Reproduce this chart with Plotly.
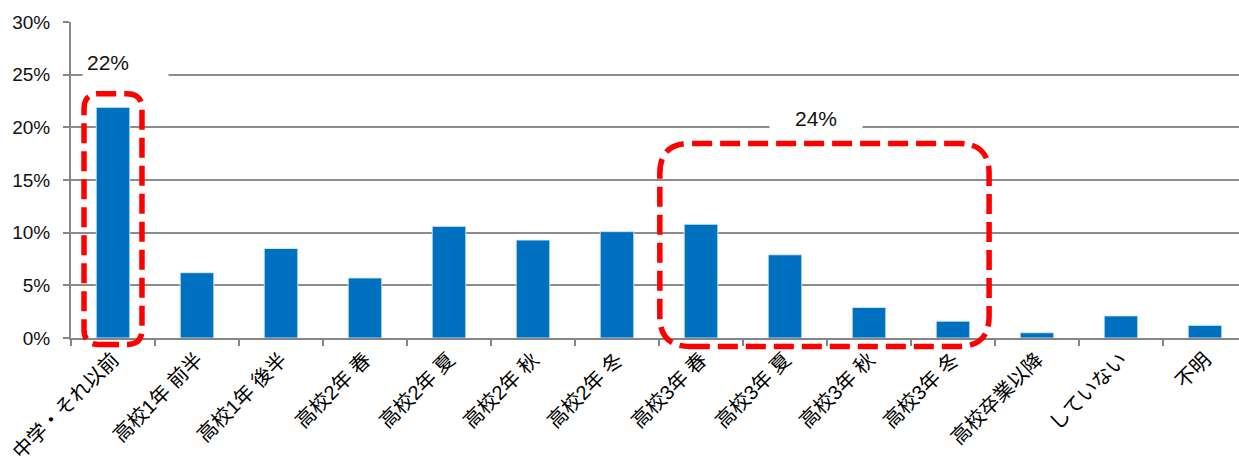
import plotly.graph_objects as go

categories = ["中学・それ以前", "高校1年 前半", "高校1年 後半", "高校2年 春", "高校2年 夏",
              "高校2年 秋", "高校2年 冬", "高校3年 春", "高校3年 夏", "高校3年 秋",
              "高校3年 冬", "高校卒業以降", "していない", "不明"]
values = [21.9, 6.2, 8.5, 5.7, 10.6, 9.3, 10.1, 10.8, 7.9, 2.9, 1.6, 0.5, 2.1, 1.2]
y_ticks = [0, 5, 10, 15, 20, 25, 30]
y_tick_labels = ["0%", "5%", "10%", "15%", "20%", "25%", "30%"]
callout_texts = ["22%", "24%"]

W, H = 1239, 457
ML, MR, MT, MB = 71, 0, 22, 119
XR = [-0.5, 13.405]
YR = [0, 30]
PW, PH = W - ML - MR, H - MT - MB


def to_paper(x, y):
    return (x - XR[0]) / (XR[1] - XR[0]), (y - YR[0]) / (YR[1] - YR[0])


def rounded_path(x0, y0, x1, y1, r):
    (px0, py0), (px1, py1) = to_paper(x0, y0), to_paper(x1, y1)
    rx, ry = r / PW, r / PH
    return (f"M {px0+rx},{py0} L {px1-rx},{py0} Q {px1},{py0} {px1},{py0+ry} "
            f"L {px1},{py1-ry} Q {px1},{py1} {px1-rx},{py1} "
            f"L {px0+rx},{py1} Q {px0},{py1} {px0},{py1-ry} "
            f"L {px0},{py0+ry} Q {px0},{py0} {px0+rx},{py0} Z")


fig = go.Figure()
fig.add_trace(go.Bar(
    x=categories, y=values, width=0.4,
    marker=dict(color="#0070C0", line=dict(color="rgba(220,235,250,0.9)", width=1)),
    showlegend=False, hoverinfo="x+y",
))

gray = "#868686"
fig.update_layout(
    width=W, height=H,
    margin=dict(l=ML, r=MR, t=MT, b=MB, autoexpand=False),
    paper_bgcolor="white", plot_bgcolor="white",
    font=dict(family="Liberation Sans, Noto Sans CJK JP", size=18, color="#111111"),
    xaxis=dict(
        type="category", range=XR, automargin=False,
        showline=True, linecolor=gray, linewidth=2,
        ticks="outside", tickson="boundaries", ticklen=6, tickcolor=gray, tickwidth=1.5,
        tickangle=-45, showgrid=False,
        tickfont=dict(family="Liberation Sans, Noto Sans CJK JP", size=20, color="#000000"),
    ),
    yaxis=dict(
        range=YR, automargin=False, tickmode="array",
        tickvals=y_ticks, ticktext=y_tick_labels,
        showline=True, linecolor=gray, linewidth=2,
        ticks="outside", ticklen=6, tickcolor=gray, tickwidth=1.5,
        showgrid=True, gridcolor="#8c8c8c", gridwidth=1.5, zeroline=False,
        tickfont=dict(family="Liberation Sans", size=19, color="#111111"),
        ticklabelstandoff=9,
    ),
)

# red dashed rounded boxes
dash_line = dict(color="#FF0000", width=5.5, dash="20px,8px")
fig.add_shape(type="path", xref="paper", yref="paper",
              path=rounded_path(-0.345, -0.62, 0.345, 23.2, 15), line=dash_line)
fig.add_shape(type="path", xref="paper", yref="paper",
              path=rounded_path(6.51, -0.8, 10.43, 18.47, 30), line=dash_line)

# callout labels
fig.add_annotation(x=0.149, y=26.2, xref="x", yref="y", text=callout_texts[0],
                   showarrow=False, bgcolor="white", width=77, align="left",
                   borderpad=4, font=dict(family="Liberation Sans", size=21, color="#111111"))
fig.add_annotation(x=8.37, y=20.85, xref="x", yref="y", text=callout_texts[1],
                   showarrow=False, bgcolor="white", width=84, align="center",
                   borderpad=4, font=dict(family="Liberation Sans", size=21, color="#111111"))

fig.write_html("out.html", config={"displayModeBar": False},
               post_script="document.body.style.margin='0px';")
